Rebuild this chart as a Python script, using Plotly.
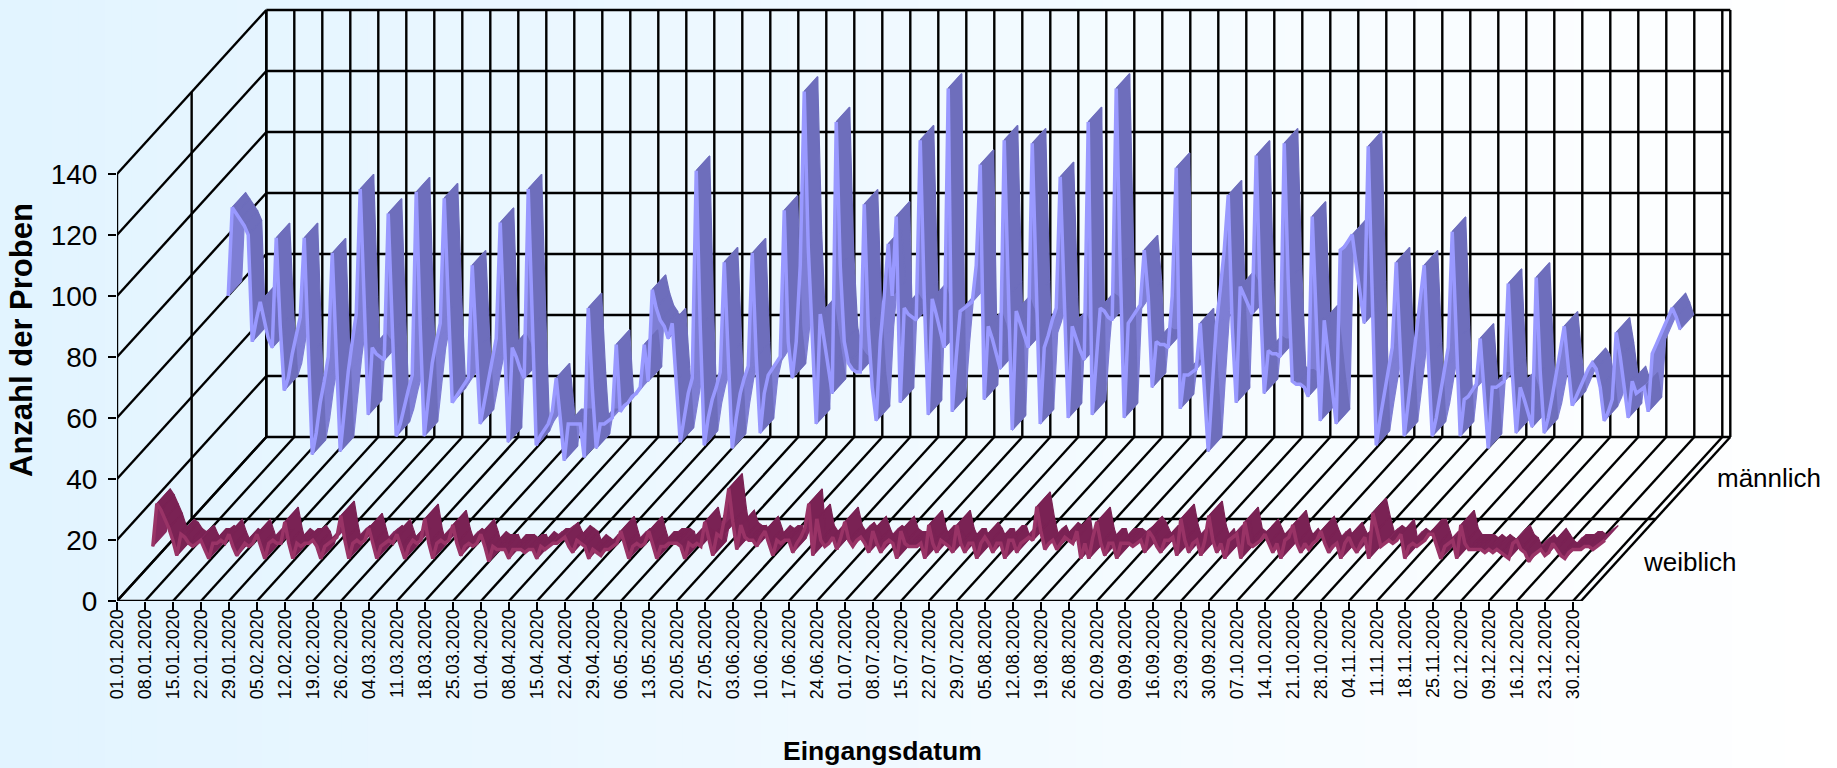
import plotly.graph_objects as go

tick_labels = ["01.01.2020","08.01.2020","15.01.2020","22.01.2020","29.01.2020","05.02.2020","12.02.2020","19.02.2020","26.02.2020","04.03.2020","11.03.2020","18.03.2020","25.03.2020","01.04.2020","08.04.2020","15.04.2020","22.04.2020","29.04.2020","06.05.2020","13.05.2020","20.05.2020","27.05.2020","03.06.2020","10.06.2020","17.06.2020","24.06.2020","01.07.2020","08.07.2020","15.07.2020","22.07.2020","29.07.2020","05.08.2020","12.08.2020","19.08.2020","26.08.2020","02.09.2020","09.09.2020","16.09.2020","23.09.2020","30.09.2020","07.10.2020","14.10.2020","21.10.2020","28.10.2020","04.11.2020","11.11.2020","18.11.2020","25.11.2020","02.12.2020","09.12.2020","16.12.2020","23.12.2020","30.12.2020"]
value_ticks = [0, 20, 40, 60, 80, 100, 120, 140]
series_names = ["weiblich", "männlich"]

maennlich = [
    60,89,87,85,83,80,45,52,58,52,
    46,43,79,50,29,33,41,47,53,79,
    40,8,15,25,32,40,74,38,9,22,
    35,45,54,95,55,21,43,41,40,39,
    87,48,14,18,24,29,34,94,50,14,
    26,38,45,51,92,55,25,27,29,31,
    33,70,42,18,25,32,38,46,84,45,
    12,43,40,36,33,95,50,11,14,16,
    18,22,33,20,6,18,18,18,18,7,
    56,30,10,18,18,19,20,44,22,24,
    25,27,28,30,44,32,62,56,52,50,
    46,51,32,12,20,28,33,101,50,11,
    20,26,30,35,71,40,10,20,28,33,
    37,74,40,15,28,34,36,38,40,88,
    45,33,45,70,127,76,45,18,54,45,
    36,28,117,70,45,38,36,35,35,90,
    50,30,19,45,60,77,60,86,25,56,
    54,53,52,111,60,21,59,54,48,43,
    128,22,40,55,56,57,58,70,103,26,
    50,46,41,36,111,60,16,55,51,47,
    43,110,60,18,43,47,52,56,99,55,
    20,50,46,42,39,117,21,40,56,55,
    53,52,128,70,20,51,53,55,57,75,
    60,30,45,44,44,43,60,102,23,34,
    34,35,36,51,30,9,30,50,62,75,
    93,50,25,63,60,57,54,106,60,28,
    42,41,41,40,110,65,32,31,31,30,
    27,86,50,19,52,40,28,18,75,76,
    78,80,70,60,51,109,60,11,20,28,
    36,43,71,40,14,25,36,47,57,70,
    40,14,20,28,36,43,81,45,14,26,
    27,29,31,46,28,10,30,30,31,32,
    64,35,15,30,26,21,17,66,35,15,
    20,27,34,42,50,36,24,27,30,33,
    36,38,36,30,19,22,26,48,40,30,
    20,32,28,29,30,22,41,44,47,50,
    53,56,53,49,
]

weiblich = [
    5,19,17,14,11,7,2,9,8,6,
    5,6,7,4,1,6,6,7,6,9,
    5,2,4,6,5,6,9,5,1,6,
    7,6,6,13,6,1,6,5,6,6,
    7,5,1,5,6,7,8,15,7,1,
    6,7,6,7,11,6,1,5,6,7,
    6,9,5,1,5,7,6,7,14,6,
    1,6,7,6,7,12,6,2,5,6,
    5,6,9,5,0,5,4,4,4,1,
    4,4,4,3,4,4,1,5,4,5,
    6,6,7,8,5,3,7,6,5,1,
    4,3,2,4,4,5,6,10,5,1,
    5,6,5,6,10,5,1,5,5,6,
    6,6,5,1,6,5,6,5,13,7,
    2,9,8,15,24,13,4,12,8,7,
    7,5,8,10,6,2,7,6,7,7,
    3,6,8,11,19,2,14,7,5,6,
    8,4,8,13,7,5,7,8,6,3,
    10,6,3,6,7,6,1,10,6,5,
    5,5,6,1,12,6,3,7,6,5,
    3,12,6,3,6,6,1,6,8,6,
    3,6,6,1,7,7,3,6,7,8,
    7,18,10,4,6,7,4,6,8,7,
    6,10,1,6,1,8,13,6,2,6,
    6,1,6,6,6,5,6,7,3,10,
    8,5,3,7,7,8,2,14,7,3,
    6,7,2,7,15,7,3,6,1,7,
    8,9,1,13,6,5,6,7,9,6,
    3,6,1,7,8,12,6,3,6,4,
    6,7,10,6,3,5,6,1,6,8,
    5,3,6,8,1,16,10,5,6,7,
    6,7,9,1,5,6,5,6,7,9,
    9,5,1,5,6,7,1,12,6,4,
    4,4,4,3,4,3,4,3,2,1,
    6,7,4,3,0,2,3,4,2,3,
    6,4,2,1,3,4,4,4,5,5,
    4,5,6,7,
]

# figure geometry (pixels)
W, H = 1837, 768
LEFT, BASE = 117, 601
PX_DAY, PX_VAL = 4.0, 3.05
DEPTH_PX_X, DEPTH_PX_Y = 149.3, 164.0
LAST_DAY = 366

def proj(day, val, d):
    """Oblique projection of (day, value, depth) on the 2D axes."""
    return day + d * DEPTH_PX_X / PX_DAY, val + d * DEPTH_PX_Y / PX_VAL

week_days = [7 * i for i in range(len(tick_labels))]
wall_days = week_days + [LAST_DAY]

# grid: all the lines of walls and floor
gx, gy = [], []
def seg(a, b):
    p, q = proj(*a), proj(*b)
    gx.extend([p[0], q[0], None]); gy.extend([p[1], q[1], None])

for v in value_ticks:
    seg((0, v, 0), (0, v, 1))
    seg((0, v, 1), (LAST_DAY, v, 1))
for dd in wall_days:
    seg((dd, 0, 0), (dd, 0, 1))
    seg((dd, 0, 1), (dd, 140, 1))
seg((0, 0, 0), (LAST_DAY, 0, 0))
seg((0, 0, 0.5), (LAST_DAY, 0, 0.5))
seg((0, 0, 0), (0, 140, 0))
seg((0, 0, 0.5), (0, 140, 0.5))
seg((0, 0, 1), (0, 140, 1))

def ribbon(values, d0, d1, rise_col, fall_col, line_col):
    out = []
    groups = {True: ([], []), False: ([], [])}
    for i in range(len(values) - 1):
        a, b = values[i], values[i + 1]
        pts = [proj(i, a, d0), proj(i + 1, b, d0), proj(i + 1, b, d1), proj(i, a, d1)]
        rising = b > a
        # same winding for every face, so overlaps stay filled
        if rising:
            pts = pts[::-1]
        xs, ys = groups[rising]
        for p in pts + [pts[0]]:
            xs.append(p[0]); ys.append(p[1])
        xs.append(None); ys.append(None)
    for rising, col in ((True, rise_col), (False, fall_col)):
        xs, ys = groups[rising]
        out.append(go.Scatter(x=xs, y=ys, mode="lines", fill="toself", fillcolor=col,
                              line=dict(color=col, width=1.2), hoverinfo="skip", showlegend=False))
    front = [proj(i, v, d0) for i, v in enumerate(values)]
    out.append(go.Scatter(x=[p[0] for p in front], y=[p[1] for p in front], mode="lines",
                          line=dict(color=line_col, width=3.5), hoverinfo="skip", showlegend=False))
    return out

fig = go.Figure()
fig.add_trace(go.Scatter(x=gx, y=gy, mode="lines", line=dict(color="#000000", width=2.4),
                         hoverinfo="skip", showlegend=False))
for t in ribbon(maennlich, 0.745, 0.835, "#7E7ED4", "#6E6EBC", "#9999FF"):
    fig.add_trace(t)
for t in ribbon(weiblich, 0.24, 0.33, "#86285E", "#7A2254", "#993366"):
    fig.add_trace(t)

# background gradient
shapes = []
N = 70
for i in range(N):
    f = i / (N - 1)
    r = round(0xE2 + (0xFF - 0xE2) * f)
    g = round(0xF4 + (0xFF - 0xF4) * f)
    shapes.append(dict(type="rect", layer="below", xref="paper", yref="paper",
                       x0=(W * i / N - LEFT) / (W - LEFT), x1=(W * (i + 1) / N - LEFT + 1) / (W - LEFT),
                       y0=-0.3, y1=1.0, line=dict(width=0), fillcolor=f"rgb({r},{g},255)"))

def px(x, y):
    return dict(xref="paper", yref="paper", x=(x - LEFT) / (W - LEFT), y=(BASE - y) / BASE,
                showarrow=False, xanchor="center", yanchor="middle")

annotations = [
    dict(text="<b>Eingangsdatum</b>", font=dict(size=26.5, color="#000000"), **px(882, 751)),
    dict(text="<b>Anzahl der Proben</b>", textangle=-90, font=dict(size=31, color="#000000"), **px(22, 340)),
    dict(text=series_names[1], font=dict(size=26, color="#000000"), **px(1769, 478)),
    dict(text=series_names[0], font=dict(size=26, color="#000000"), **px(1690, 562)),
]

fig.update_layout(
    width=W, height=H, margin=dict(l=LEFT, r=0, t=0, b=H - BASE),
    paper_bgcolor="#ffffff", plot_bgcolor="rgba(0,0,0,0)",
    font=dict(family="Liberation Sans, Arial, sans-serif", color="#000000"),
    shapes=shapes, annotations=annotations, showlegend=False,
    xaxis=dict(range=[0, (W - LEFT) / PX_DAY], tickmode="array", tickvals=week_days, ticktext=tick_labels,
               tickangle=-90, ticks="outside", ticklen=8, tickwidth=2, tickcolor="#000000",
               tickfont=dict(size=18), ticklabelstandoff=-8, showgrid=False, zeroline=False, showline=False, fixedrange=True),
    yaxis=dict(range=[0, BASE / PX_VAL], tickmode="array", tickvals=value_ticks,
               ticks="outside", ticklen=8, tickwidth=2, tickcolor="#000000",
               tickfont=dict(size=28), ticklabelstandoff=5, showgrid=False, zeroline=False, showline=False, fixedrange=True),
)

fig.write_html("out.html", post_script="document.body.style.margin='0';document.body.style.overflow='hidden';",
               config=dict(displayModeBar=False))
